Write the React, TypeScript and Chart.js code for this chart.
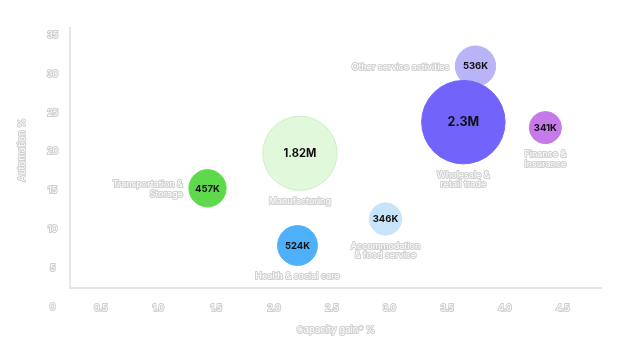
import React, { useEffect, useRef } from "react";
import { Chart, registerables } from "chart.js";

Chart.register(...registerables);

const categories = [
  "Other service activities",
  "Wholesale & retail trade",
  "Finance & Insurance",
  "Manufacturing",
  "Transportation & Storage",
  "Accommodation & food service",
  "Health & social care",
];
const labelLines = [
  ["Other service activities"],
  ["Wholesale &", "retail trade"],
  ["Finance &", "Insurance"],
  ["Manufacturing"],
  ["Transportation &", "Storage"],
  ["Accommodation", "& food service"],
  ["Health & social care"],
];
const capacityGain = [3.745, 3.64, 4.35, 2.225, 1.425, 2.966, 2.204];
const automation = [31.0, 23.8, 23.1, 19.8, 15.3, 11.35, 7.94];
const workersK = [536, 2300, 341, 1820, 457, 346, 524];
const xTickValues = [0.5, 1, 1.5, 2, 2.5, 3, 3.5, 4, 4.5];
const yTickValues = [0, 5, 10, 15, 20, 25, 30, 35];
const xTitle = "Capacity gain* %";
const yTitle = "Automation %";

const FONT = 'Inter, "Helvetica Neue", Arial, sans-serif';
const fillColors = ["#b9b3f7", "#7264fb", "#c67ae9", "#e1f8da", "#5ed94b", "#c7e4fb", "#4eb0f8"];
const borderColors = ["#b9b3f7", "#7264fb", "#c67ae9", "#cdeec4", "#5ed94b", "#c7e4fb", "#4eb0f8"];
const labelSide = ["left", "below", "below", "below", "left", "below", "below"];
const RADIUS_K = 0.87;
const STROKE = "#cfcfcf";

function fmt(v: number) {
  return v >= 1000 ? `${v / 1000}M` : `${v}K`;
}

function outlined(ctx: CanvasRenderingContext2D, text: string, x: number, y: number) {
  ctx.lineJoin = "round";
  ctx.lineWidth = 2;
  ctx.strokeStyle = STROKE;
  ctx.strokeText(text, x, y);
  ctx.fillStyle = "#ffffff";
  ctx.fillText(text, x, y);
}

const labelPlugin = {
  id: "bubbleLabels",
  afterDraw(chart: any) {
    const ctx: CanvasRenderingContext2D = chart.ctx;
    const meta = chart.getDatasetMeta(0);
    ctx.save();
    meta.data.forEach((el: any, i: number) => {
      const r = el.options.radius;
      const { x, y } = el;
      const size = Math.max(9.5, 0.3 * r);
      ctx.font = `bold ${size}px ${FONT}`;
      ctx.fillStyle = "#111111";
      ctx.textAlign = "center";
      ctx.textBaseline = "middle";
      ctx.fillText(fmt(workersK[i]), x, y + 0.5);
      ctx.font = `9px ${FONT}`;
      const lines = labelLines[i];
      if (labelSide[i] === "left") {
        ctx.textAlign = "right";
        const lh = 10;
        const start = y + 1 - ((lines.length - 1) * lh) / 2;
        lines.forEach((ln, j) => outlined(ctx, ln, x - r - 6, start + j * lh));
      } else {
        ctx.textAlign = "center";
        const lh = 9.5;
        lines.forEach((ln, j) => outlined(ctx, ln, x, y + r + 11 + j * lh));
      }
    });
    ctx.font = `9.5px ${FONT}`;
    ctx.textAlign = "center";
    ctx.textBaseline = "middle";
    outlined(ctx, xTitle, 336, 330);
    ctx.translate(22, 150);
    ctx.rotate(-Math.PI / 2);
    outlined(ctx, yTitle, 0, 0);
    ctx.restore();
  },
};

export default function App() {
  const ref = useRef<HTMLCanvasElement>(null);
  useEffect(() => {
    if (!ref.current) return;
    const tickCommon = {
      color: "#ffffff",
      textStrokeColor: STROKE,
      textStrokeWidth: 2,
      font: { family: FONT, size: 9 },
      autoSkip: false,
      maxRotation: 0,
    };
    const chart = new Chart(ref.current, {
      type: "bubble",
      data: {
        labels: categories,
        datasets: [
          {
            data: capacityGain.map((x, i) => ({ x, y: automation[i] })),
            radius: (c: any) => RADIUS_K * Math.sqrt(workersK[c.dataIndex]),
            backgroundColor: fillColors,
            borderColor: borderColors,
            borderWidth: 1,
          } as any,
        ],
      },
      options: {
        responsive: false,
        animation: false,
        devicePixelRatio: 1,
        layout: { autoPadding: false, padding: { top: 27.7, right: 38.5, left: 0, bottom: 0 } },
        plugins: { legend: { display: false }, tooltip: { enabled: false } },
        scales: {
          x: {
            type: "linear",
            min: 0.237,
            max: 4.836,
            afterBuildTicks: (s: any) => {
              s.ticks = xTickValues.map((v) => ({ value: v }));
            },
            afterFit: (s: any) => {
              s.height = 71.7;
            },
            grid: { display: false },
            border: { display: true, color: "#e6e6e6", width: 2 },
            ticks: { ...tickCommon, padding: 7 },
          },
          y: {
            type: "linear",
            min: 2.44,
            max: 35.94,
            afterBuildTicks: (s: any) => {
              s.ticks = yTickValues.map((v) => ({ value: v }));
            },
            afterFit: (s: any) => {
              s.width = 70.3;
            },
            grid: { display: false },
            border: { display: true, color: "#e6e6e6", width: 2 },
            ticks: { ...tickCommon, padding: 4, crossAlign: "center" },
          },
        },
      } as any,
      plugins: [labelPlugin],
    });
    return () => chart.destroy();
  }, []);
  return (
    <div style={{ position: "fixed", left: 0, top: 0, width: 640, height: 360, background: "#fff" }}>
      <canvas ref={ref} width={640} height={360} style={{ display: "block" }} />
    </div>
  );
}
